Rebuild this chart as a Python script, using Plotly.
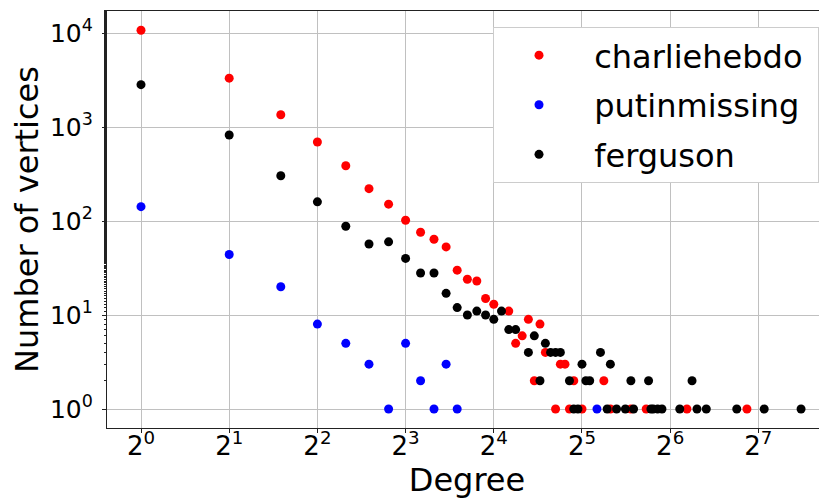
import numpy as np
import plotly.graph_objects as go

# charliehebdo (red)
charlie_deg = [1, 2, 3, 4, 5, 6, 7, 8, 9, 10, 11, 12, 13, 14, 15, 16, 18, 19, 20, 21, 22, 23, 24,
               26, 27, 28, 29, 30, 32, 38, 40, 47, 53, 73, 117]
charlie_cnt = [10700, 3310, 1350, 692, 387, 221, 151, 102, 76, 64, 53, 30, 24, 23, 15, 13, 11, 5, 6, 9, 2, 8, 4,
               1, 3, 3, 1, 2, 1, 2, 1, 1, 1, 1, 1]

# putinmissing (blue)
putin_deg = [1, 2, 3, 4, 5, 6, 7, 8, 9, 10, 11, 12, 36]
putin_cnt = [142, 44, 20, 8, 5, 3, 1, 5, 2, 1, 3, 1, 1]

# ferguson (black)
ferg_deg = [1, 2, 3, 4, 5, 6, 7, 8, 9, 10, 11, 12, 13, 14, 15, 16, 17, 18, 19, 21, 22, 23, 24, 25, 26, 27,
            29, 30, 31, 32, 33, 34, 37, 39, 40, 42, 45, 47, 48, 54, 55, 56, 58, 60, 69, 76, 79, 85, 108, 134, 179]
ferg_cnt = [2820, 822, 303, 160, 88, 57, 60, 40, 28, 28, 17, 12, 10, 11, 10, 9, 11, 7, 7, 4, 6, 2, 5, 4, 4, 4,
            2, 1, 1, 3, 2, 2, 4, 1, 3, 1, 1, 2, 1, 2, 1, 1, 1, 1, 1, 2, 1, 1, 1, 1, 1]

x_tick_exps = [0, 1, 2, 3, 4, 5, 6, 7]
y_tick_exps = [0, 1, 2, 3, 4]

series = [
    ("charliehebdo", charlie_deg, charlie_cnt, "#ff0000"),
    ("putinmissing", putin_deg, putin_cnt, "#0000ff"),
    ("ferguson", ferg_deg, ferg_cnt, "#000000"),
]

FONT = "DejaVu Sans"
NB = "\u00a0"
fig = go.Figure()
for i, (name, xs, ys, col) in enumerate(series):
    fig.add_trace(go.Scatter(
        x=xs, y=ys, mode="markers", name=NB + name + NB, legendgroup=f"g{i}",
        marker=dict(color=col, size=9, line=dict(width=0)),
    ))

# plot area: 720 px wide, 417 px tall
x_lo = -0.3855 * np.log10(2)
x_hi = 7.778 * np.log10(2)

fig.update_layout(
    width=827, height=500,
    margin=dict(l=99, r=8, t=3, b=80, autoexpand=False),
    paper_bgcolor="white", plot_bgcolor="white",
    font=dict(family=FONT, color="black"),
    showlegend=True,
    legend=dict(
        x=0.9889, xanchor="right", y=0.962, yanchor="top",
        bgcolor="white", bordercolor="#cccccc", borderwidth=1,
        font=dict(family=FONT, size=32, color="black"),
        itemwidth=80, tracegroupgap=5, traceorder="grouped",
    ),
    xaxis=dict(
        type="log", range=[x_lo, x_hi], automargin=False,
        tickvals=[2 ** e for e in x_tick_exps],
        ticktext=[f"2<sup>{e}</sup>" for e in x_tick_exps],
        tickfont=dict(family=FONT, size=26, color="black"),
        ticks="outside", ticklen=4, tickcolor="#222", ticklabelstandoff=-9,
        showgrid=True, gridcolor="#c0c0c0", gridwidth=1,
        showline=True, linecolor="#222", linewidth=1.3, mirror=True,
        zeroline=False,
        title=dict(text="Degree", font=dict(family=FONT, size=32, color="black"), standoff=2),
    ),
    yaxis=dict(
        type="log", range=[-0.202, 4.234], automargin=False,
        tickvals=[10 ** e for e in y_tick_exps],
        ticktext=[f"10<sup>{e}</sup>" for e in y_tick_exps],
        tickfont=dict(family=FONT, size=25, color="black"),
        ticks="outside", ticklen=4, tickcolor="#222", ticklabelstandoff=4,
        minor=dict(ticks="outside", ticklen=2, tickcolor="#222", showgrid=False),
        showgrid=True, gridcolor="#c0c0c0", gridwidth=1,
        showline=True, linecolor="#222", linewidth=1.3, mirror=False,
        zeroline=False,
        title=dict(text="Number of vertices", font=dict(family=FONT, size=32, color="black"), standoff=4),
    ),
)

fig.write_html("out.html")
